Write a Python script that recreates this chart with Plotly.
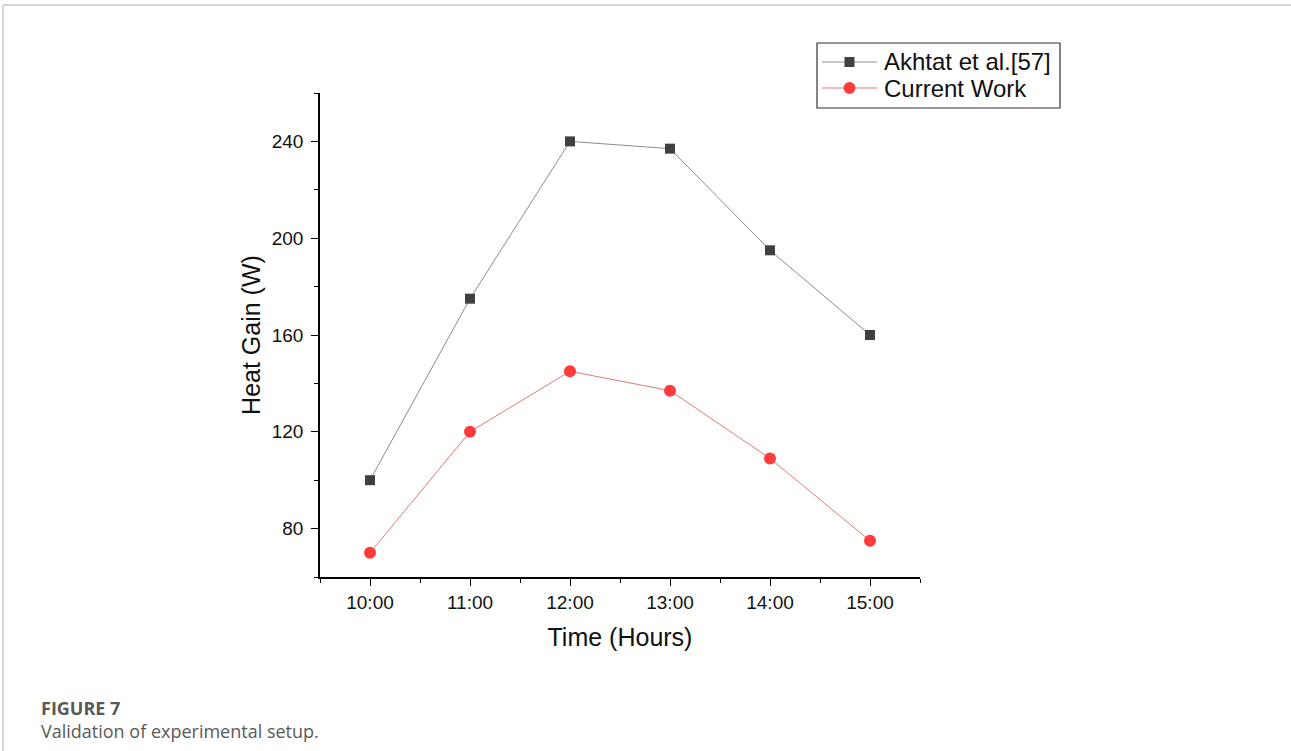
import plotly.graph_objects as go

# Heat gain validation data
times = ["10:00", "11:00", "12:00", "13:00", "14:00", "15:00"]
akhtat_gain = [100, 175, 240, 237, 195, 160]
current_gain = [70, 120, 145, 137, 109, 75]
y_ticks = [80, 120, 160, 200, 240]
series_names = ["Akhtat et al.[57]", "Current Work"]

hours = [int(t.split(":")[0]) for t in times]

W, H = 1291, 751
L, R, T, B = 320, 920, 93, 577  # plot area in pixels


def px(x):
    return (x - L) / (R - L)


def py(y):
    return (B - y) / (B - T)


styles = [
    dict(line=dict(color="#8c8c8c", width=1), marker=dict(symbol="square", size=10, color="#404040")),
    dict(line=dict(color="#e07a7a", width=1), marker=dict(symbol="circle", size=12, color="#ff3b3b")),
]

fig = go.Figure()
for name, vals, st in zip(series_names, [akhtat_gain, current_gain], styles):
    fig.add_trace(go.Scatter(x=hours, y=vals, name=name, mode="lines+markers", **st))

axis_font = dict(family="Liberation Sans, Arial, sans-serif", size=19, color="#111")
title_font = dict(family="Liberation Sans, Arial, sans-serif", size=25, color="#111")

fig.update_xaxes(
    range=[9.5, 15.5], tickvals=hours, ticktext=times,
    showline=True, linecolor="black", linewidth=1.5, showgrid=False, zeroline=False,
    ticks="outside", ticklen=7, tickwidth=1.2, tickcolor="black",
    minor=dict(ticks="outside", ticklen=4, tickwidth=1.2, tickcolor="black", dtick=0.5, tick0=9.5),
    tickfont=axis_font,
    title=dict(text="Time (Hours)", font=title_font, standoff=17),
)
fig.update_yaxes(
    range=[60, 260], tickvals=y_ticks,
    showline=True, linecolor="black", linewidth=1.5, showgrid=False, zeroline=False,
    ticks="outside", ticklen=7, tickwidth=1.2, tickcolor="black", ticklabelstandoff=4,
    minor=dict(ticks="outside", ticklen=4, tickwidth=1.2, tickcolor="black", dtick=20, tick0=60),
    tickfont=axis_font,
    title=dict(text="Heat Gain (W)", font=title_font, standoff=4),
)

# card frame lines
fig.add_shape(type="line", xref="paper", yref="paper",
              x0=px(3), x1=px(1291), y0=py(5), y1=py(5),
              line=dict(color="#c8c8c8", width=1.5))
fig.add_shape(type="line", xref="paper", yref="paper",
              x0=px(3), x1=px(3), y0=py(5), y1=py(751),
              line=dict(color="#c8c8c8", width=1.5))

# compact legend box
fig.add_shape(type="rect", xref="paper", yref="paper",
              x0=px(817), x1=px(1060), y0=py(43), y1=py(108),
              line=dict(color="#333", width=1.2), fillcolor="white", layer="above")
for i, (name, st) in enumerate(zip(series_names, styles)):
    yc = 62 + 26 * i
    fig.add_shape(type="line", xref="paper", yref="paper",
                  x0=px(822), x1=px(877), y0=py(yc), y1=py(yc),
                  line=dict(color=st["line"]["color"], width=1), layer="above")
    half = st["marker"]["size"] / 2
    fig.add_shape(type="rect" if st["marker"]["symbol"] == "square" else "circle",
                  xref="paper", yref="paper",
                  x0=px(849.5 - half), x1=px(849.5 + half), y0=py(yc - half), y1=py(yc + half),
                  line=dict(width=0), fillcolor=st["marker"]["color"], layer="above")
    fig.add_annotation(xref="paper", yref="paper", x=px(882), y=py(yc), xanchor="left", yanchor="middle",
                       text=name, showarrow=False,
                       font=dict(family="Liberation Sans, Arial, sans-serif", size=24, color="#111"))

# caption
fig.add_annotation(xref="paper", yref="paper", x=px(39), y=py(708), xanchor="left", yanchor="middle",
                   text="<b>FIGURE 7</b>", showarrow=False,
                   font=dict(family="Open Sans, Noto Sans, sans-serif", size=18, color="#595959"))
fig.add_annotation(xref="paper", yref="paper", x=px(39), y=py(731), xanchor="left", yanchor="middle",
                   text="Validation of experimental setup.", showarrow=False,
                   font=dict(family="Open Sans, Noto Sans, sans-serif", size=18, color="#595959"))

fig.update_layout(
    width=W, height=H,
    margin=dict(l=L, r=W - R, t=T, b=H - B, autoexpand=False),
    paper_bgcolor="white", plot_bgcolor="white",
    showlegend=False,
)

fig.write_html("out.html")
